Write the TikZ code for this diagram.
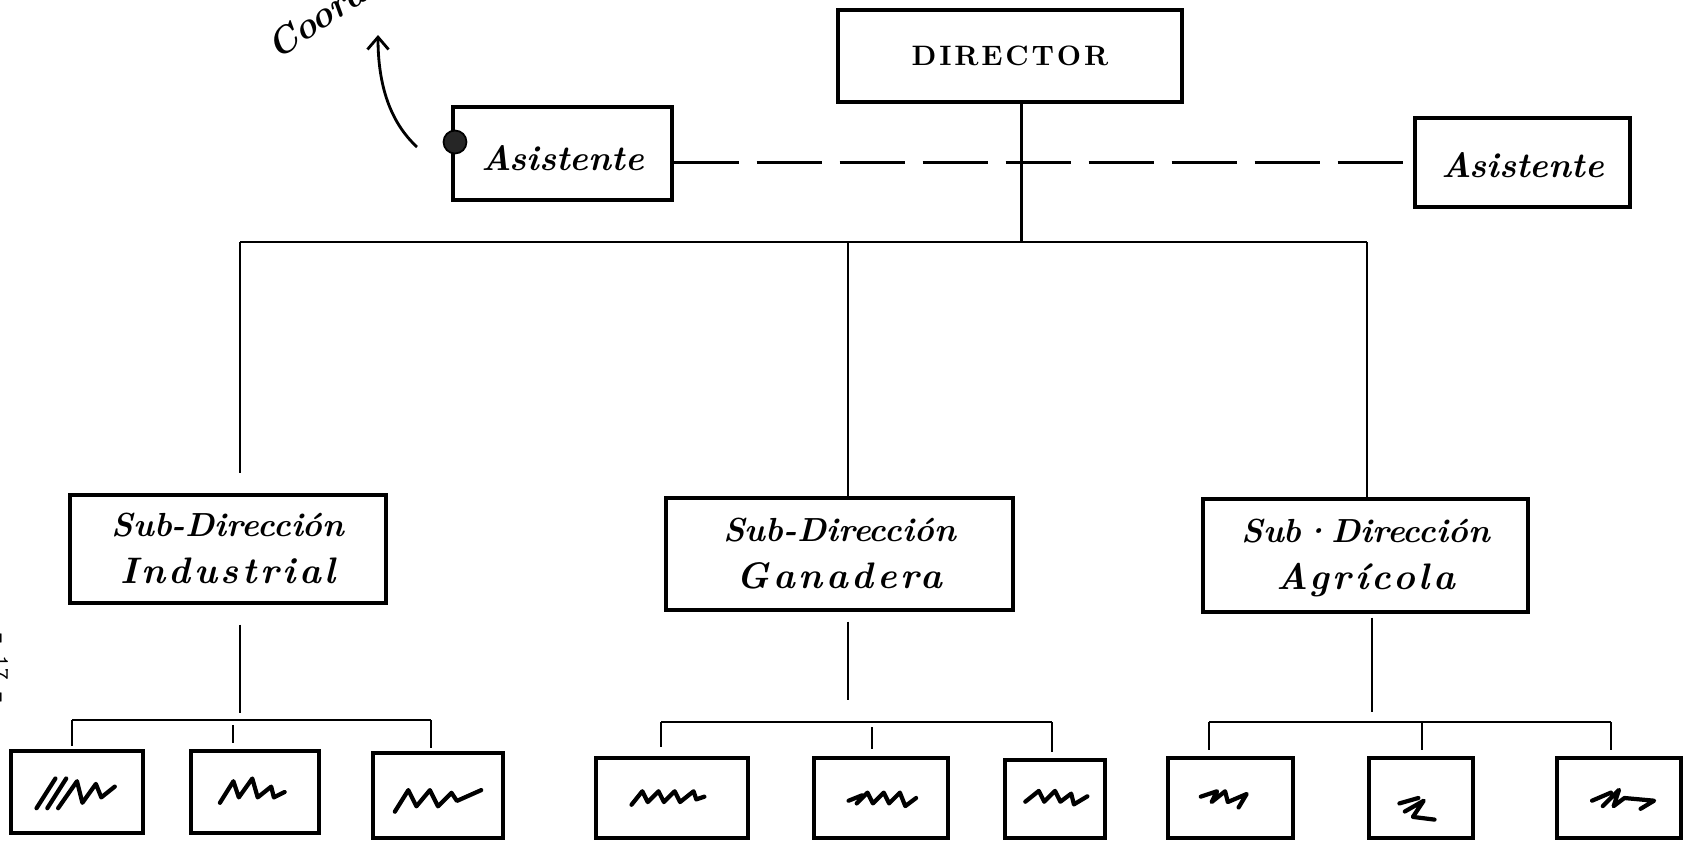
\documentclass[tikz,border=0pt]{standalone}
\usepackage{fontspec}
\newfontfamily\dirfont{lmroman10-bold.otf}[LetterSpace=10]
\newfontfamily\handfont{lmroman10-bolditalic.otf}
\newfontfamily\handwide{lmroman10-bolditalic.otf}[LetterSpace=10]
\newfontfamily\pagefont{lmmono10-regular.otf}
\usetikzlibrary{fit,calc,arrows.meta}
\newcommand{\subname}[2]{\begin{tabular}[t]{@{}c@{}}#1\\{\fontsize{21}{27}\handwide #2}\end{tabular}}
\begin{document}
\begin{tikzpicture}[x=0.02cm, y=-0.02cm,
  box/.style={draw, line width=1.9pt, inner sep=0pt},
  unit/.style={draw, line width=1.8pt, inner sep=0pt},
  conn/.style={line width=1.6pt},
  dashline/.style={line width=1.8pt, dash pattern=on 1.3cm off 0.36cm},
  scrib/.style={line width=2.4pt, line cap=round, line join=round, x=0.027cm, y=-0.027cm},
  hand/.style={font=\fontsize{20}{27}\handfont, text height=0.66cm, text depth=0pt},
  subhand/.style={font=\fontsize{19}{27}\handfont, text height=0pt, text depth=0.52cm},
]
\useasboundingbox (0,0) rectangle (1690,842);
\fill[white] (0,0) rectangle (1690,842);

% top level
\node[box, minimum width=6.88cm, minimum height=1.84cm, font=\fontsize{16}{18}\dirfont,
      text height=0.38cm, text depth=0pt] (dir) at (1010,56) {DIRECTOR};
\node[box, hand, minimum width=4.38cm, minimum height=1.86cm] (lasis) at (562.5,153.5) {Asistente};
\node[box, hand, minimum width=4.30cm, minimum height=1.78cm, text height=0.58cm] (rasis) at (1522.5,162.5) {Asistente};
\node[circle, draw, line width=1pt, fill=black!85, minimum size=0.46cm, inner sep=0pt] (dot) at (455,142) {};

% side note and page number
\node[rotate=34, anchor=base west, font=\fontsize{21}{26}\handfont] (coord) at (272,64) {Coordin};
\coordinate (aS) at (417,147);
\coordinate (aE) at (378,35);
\draw[conn, -{Straight Barb[length=7pt, width=12pt]}] (aS) .. controls (390,122) and (378,85) .. (aE);
\node[rotate=-90, font=\fontsize{13}{15}\pagefont] (pg) at (1,668) {- 17 -};

% sub-directions
\node[box, subhand, minimum width=6.32cm, minimum height=2.16cm] (ind) at (228,549)
  {\subname{Sub-Dirección}{Industrial}};
\node[box, subhand, minimum width=6.94cm, minimum height=2.24cm] (gan) at (839.5,554)
  {\subname{Sub-Dirección}{Ganadera}};
\node[box, subhand, minimum width=6.50cm, minimum height=2.26cm] (agr) at (1365.5,555.5)
  {\subname{Sub·Dirección}{Agrícola}};

% units
\node[unit, fit={(11,751) (143,833)}] (b1) {};
\node[unit, fit={(191,751) (319,833)}] (b2) {};
\node[unit, fit={(373,753) (503,838)}] (b3) {};
\node[unit, fit={(596,758) (748,838)}] (b4) {};
\node[unit, fit={(814,758) (948,838)}] (b5) {};
\node[unit, fit={(1005,760) (1105,838)}] (b6) {};
\node[unit, fit={(1168,758) (1293,838)}] (b7) {};
\node[unit, fit={(1369,758) (1473,838)}] (b8) {};
\node[unit, fit={(1557,758) (1681,838)}] (b9) {};

% director to assistants and main bar
\coordinate (dfoot) at ($(dir.south west)!0.532!(dir.south east)$);
\coordinate (bL) at (240,242);
\coordinate (bM) at (848,242);
\coordinate (bR) at (1367,242);
\draw[dashline] (lasis.east |- rasis.west) -- (rasis.west);
\draw[conn] (dfoot) -- (dfoot |- bL);
\draw[conn] (bL) -- (bR);
\draw[conn] (bL) -- ([yshift=0.4cm]ind.north -| bL);
\draw[conn] (bM) -- (bM |- gan.north);
\draw[conn] (bR) -- (bR |- agr.north);

% Industrial branch
\coordinate (c1L) at (72,720);
\coordinate (c1M) at (233,720);
\coordinate (c1R) at (431,720);
\draw[conn] ([yshift=-0.4cm]ind.south -| bL) -- ([yshift=0.14cm]bL |- c1L);
\draw[conn] (c1L) -- (c1R);
\draw[conn] (c1L) -- ([yshift=0.06cm]c1L |- b1.north);
\draw[conn] ([yshift=-0.1cm]c1M) -- ([yshift=0.12cm]c1M |- b2.north);
\draw[conn] (c1R) -- ([yshift=0.06cm]c1R |- b3.north);

% Ganadera branch
\coordinate (c2L) at (661,722);
\coordinate (c2M) at (872,722);
\coordinate (c2R) at (1052,722);
\draw[conn] ([yshift=-0.2cm]gan.south -| bM) -- ([yshift=0.44cm]bM |- c2L);
\draw[conn] (c2L) -- (c2R);
\draw[conn] (c2L) -- ([yshift=0.18cm]c2L |- b4.north);
\draw[conn] ([yshift=-0.1cm]c2M) -- ([yshift=0.14cm]c2M |- b5.north);
\draw[conn] (c2R) -- ([yshift=0.12cm]c2R |- b6.north);

% Agricola branch
\coordinate (c3L) at (1209,722);
\coordinate (c3M) at (1422,722);
\coordinate (c3R) at (1611,722);
\draw[conn] ([yshift=-0.08cm]agr.south -| 1372,0) -- ([yshift=0.2cm]c3L -| 1372,0);
\draw[conn] (c3L) -- (c3R);
\draw[conn] (c3L) -- ([yshift=0.12cm]c3L |- b7.north);
\draw[conn] (c3M) -- ([yshift=0.12cm]c3M |- b8.north);
\draw[conn] (c3R) -- ([yshift=0.12cm]c3R |- b9.north);

% scribbled names inside the units
\draw[scrib] (b1.center) ++(-30,12) -- ++(14,-22) ++(-6,22) -- ++(14,-22) ++(-6,22) -- ++(14,-20) -- ++(4,16) -- ++(10,-14) -- ++(4,10) -- ++(10,-8);
\draw[scrib] (b2.center) ++(-26,8) -- ++(10,-16) -- ++(4,12) -- ++(10,-14) -- ++(4,14) -- ++(10,-8) -- ++(2,8) -- ++(8,-4);
\draw[scrib] (b3.center) ++(-32,12) -- ++(10,-16) -- ++(6,12) -- ++(10,-12) -- ++(6,12) -- ++(10,-10) -- ++(4,6) -- ++(18,-8);
\draw[scrib] (b4.center) ++(-30,5) -- ++(8,-10) -- ++(4,8) -- ++(8,-8) -- ++(4,8) -- ++(8,-8) -- ++(4,8) -- ++(10,-8) -- ++(2,6) -- ++(6,-2);
\draw[scrib] (b5.center) ++(-24,2) -- ++(10,-4) ++(-4,6) -- ++(8,-8) -- ++(4,8) -- ++(8,-8) -- ++(4,8) -- ++(8,-8) -- ++(4,10) -- ++(8,-6);
\draw[scrib] (b6.center) ++(-22,2) -- ++(10,-8) -- ++(4,8) -- ++(8,-8) -- ++(4,8) -- ++(8,-6) -- ++(2,8) -- ++(10,-6);
\draw[scrib] (b7.center) ++(-22,-1) -- ++(12,-4) -- ++(-4,8) -- ++(10,-8) -- ++(2,8) -- ++(14,-6) -- ++(-6,10);
\draw[scrib] (b8.center) ++(-16,4) -- ++(14,-4) ++(-10,10) -- ++(14,-8) -- ++(-8,12) -- ++(16,2);
\draw[scrib] (b9.center) ++(-20,2) -- ++(14,-6) ++(-6,10) -- ++(12,-12) -- ++(-4,12) -- ++(8,-6) -- ++(22,2) -- ++(-10,6);
\end{tikzpicture}
\end{document}
